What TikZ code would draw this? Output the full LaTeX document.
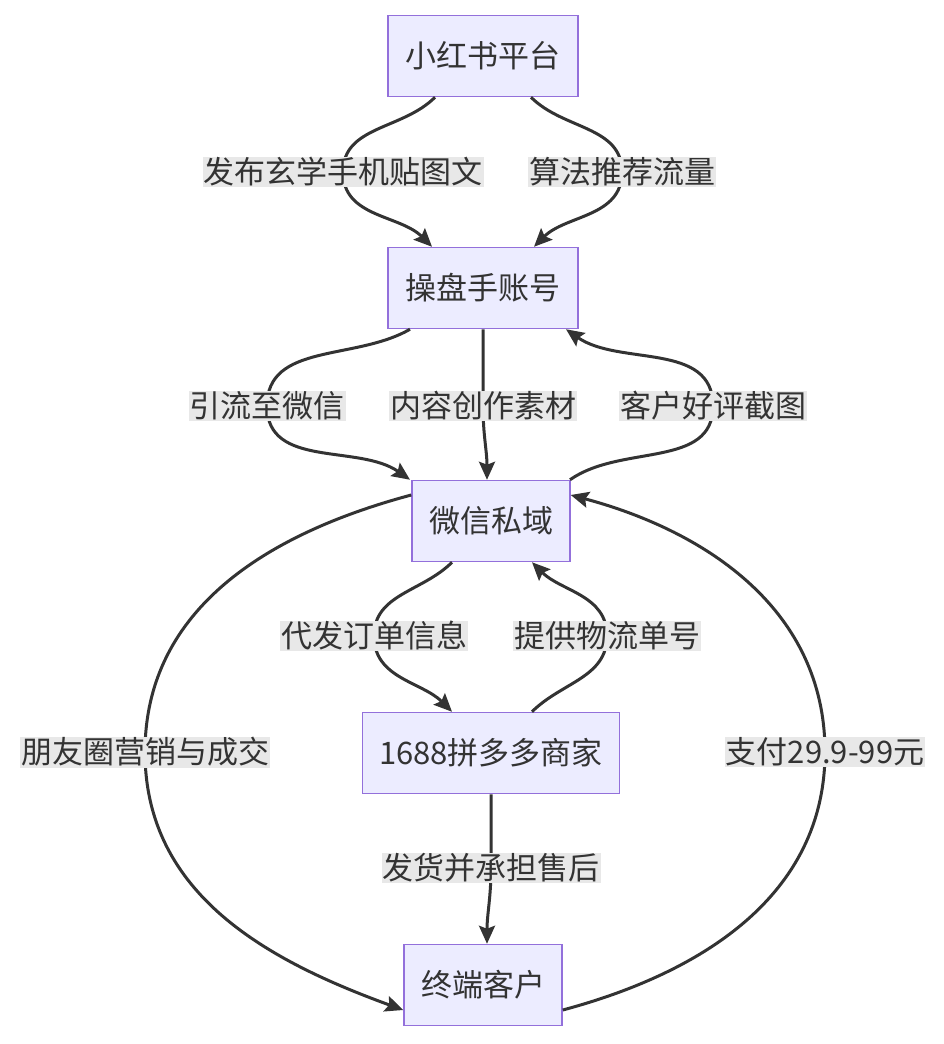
\documentclass[tikz,border=0pt]{standalone}
\usepackage{fontspec}
\setmainfont{Noto Sans CJK SC}
\usetikzlibrary{arrows.meta}
\definecolor{nfill}{HTML}{ECECFF}
\definecolor{nstroke}{HTML}{9370DB}
\definecolor{ln}{HTML}{333333}
\definecolor{lbg}{HTML}{E8E8E8}
\begin{document}
\begin{tikzpicture}[x=1pt,y=-1pt,
  box/.style={draw=nstroke,fill=nfill,line width=1.5pt,minimum height=81pt,inner sep=0pt,text=ln,font=\fontsize{31}{36}\selectfont},
  lbl/.style={fill=lbg,inner sep=1pt,text=ln,font=\fontsize{31}{36}\selectfont},
  edge/.style={draw=ln,line width=3pt,-{Stealth[length=18pt,width=16pt,inset=3pt]}}]
\useasboundingbox (0,0) rectangle (944,1044);
\node[box,minimum width=190pt] (a) at (483,56) {小红书平台};
\node[box,minimum width=190pt] (b) at (483,288) {操盘手账号};
\node[box,minimum width=158pt] (c) at (491,521) {微信私域};
\node[box,minimum width=257pt] (d) at (491,753) {1688拼多多商家};
\node[box,minimum width=158pt] (e) at (483,985) {终端客户};

\node[lbl] (l1) at (343,172) {发布玄学手机贴图文};
\node[lbl] (l2) at (622,172) {算法推荐流量};
\node[lbl] (l3) at (267,406) {引流至微信};
\node[lbl] (l4) at (483,406) {内容创作素材};
\node[lbl] (l5) at (713,406) {客户好评截图};
\node[lbl] (l6) at (374,636) {代发订单信息};
\node[lbl] (l7) at (607,636) {提供物流单号};
\node[lbl] (l8) at (145,752) {朋友圈营销与成交};
\node[lbl] (l9) at (491,868) {发货并承担售后};
\node[lbl] (l10) at (825,752) {支付29.9-99元};

\path[edge] ([xshift=-48pt]a.south) to[out=-135,in=90] (l1.center) to[out=-90,in=135] ([xshift=-51pt]b.north);
\path[edge] ([xshift=48pt]a.south) to[out=-45,in=90] (l2.center) to[out=-90,in=45] ([xshift=51pt]b.north);
\path[edge] ([xshift=-73pt]b.south) to[out=-150,in=90] (l3.center) to[out=-90,in=145] ([xshift=-81pt]c.north);
\path[edge] (b.south) to[out=-90,in=90] (l4.center) to[out=-90,in=90] ([xshift=-4pt]c.north);
\path[edge] ([xshift=79pt]c.north) to[out=35,in=-90] (l5.center) to[out=90,in=-35] ([xshift=83pt]b.south);
\path[edge] ([xshift=-39pt]c.south) to[out=-135,in=90] (l6.center) to[out=-90,in=135] ([xshift=-39pt]d.north);
\path[edge] ([xshift=41pt]d.north) to[out=45,in=-90] (l7.center) to[out=90,in=-45] ([xshift=41pt]c.south);
\path[edge] ([yshift=26pt]c.west) to[out=195,in=90] (l8.center) to[out=-90,in=160] ([yshift=-25pt]e.west);
\path[edge] (d.south) to[out=-90,in=90] (l9.center) to[out=-90,in=90] ([xshift=4pt]e.north);
\path[edge] ([yshift=-25pt]e.east) to[out=15,in=-90] (l10.center) to[out=90,in=-15] ([yshift=26pt]c.east);

\node[lbl] at (l1) {发布玄学手机贴图文};
\node[lbl] at (l2) {算法推荐流量};
\node[lbl] at (l3) {引流至微信};
\node[lbl] at (l4) {内容创作素材};
\node[lbl] at (l5) {客户好评截图};
\node[lbl] at (l6) {代发订单信息};
\node[lbl] at (l7) {提供物流单号};
\node[lbl] at (l8) {朋友圈营销与成交};
\node[lbl] at (l9) {发货并承担售后};
\node[lbl] at (l10) {支付29.9-99元};
\end{tikzpicture}
\end{document}
